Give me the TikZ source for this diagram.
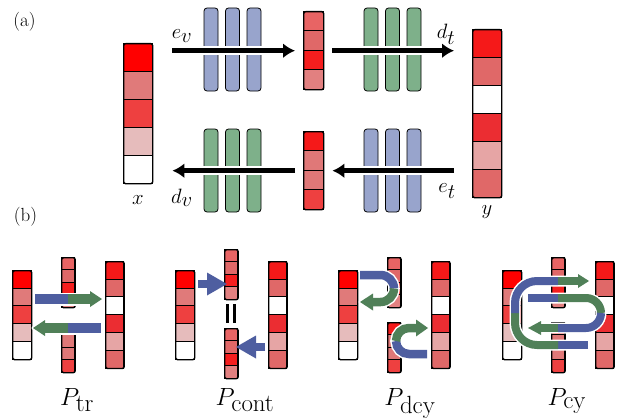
\documentclass[tikz,border=0pt]{standalone}
\usetikzlibrary{positioning,arrows.meta,calc}
\DeclareMathSizes{21}{21}{20}{15}
\DeclareMathSizes{27}{27}{25}{20}
\definecolor{layblue}{RGB}{152,164,204}
\definecolor{laygreen}{RGB}{126,176,138}
\definecolor{bandblue}{RGB}{78,94,160}
\definecolor{bandgreen}{RGB}{80,128,88}
\definecolor{xA}{RGB}{255,0,0}
\definecolor{xB}{RGB}{224,122,122}
\definecolor{xC}{RGB}{238,64,64}
\definecolor{xD}{RGB}{230,188,188}
\definecolor{yA}{RGB}{245,25,25}
\definecolor{yB}{RGB}{224,104,104}
\definecolor{yD}{RGB}{235,45,50}
\definecolor{yE}{RGB}{230,165,165}
\definecolor{zA}{RGB}{232,100,100}
\definecolor{zC}{RGB}{245,30,30}
\definecolor{zD}{RGB}{226,128,128}
\definecolor{wB}{RGB}{224,120,120}
\def\xcols{xA,xB,xC,xD,white}
\def\ycols{yA,yB,white,yD,yE,yB}
\def\ztcols{zA,yB,zC,zD}
\def\zbcols{yA,wB,wB,xC}
\def\bw{10pt}
\tikzstyle{layer}=[draw,line width=0.8pt,rounded corners=3pt,minimum width=14pt,minimum height=83pt,inner sep=0pt]
\tikzstyle{vecframe}=[draw,line width=1.4pt,rounded corners=2pt,inner sep=0pt]
\tikzstyle{bigarrow}=[line width=5pt,-{Latex[length=12pt,width=15pt]},preaction={draw=white,line width=9pt,-}]
\tikzstyle{lab}=[inner sep=0pt,anchor=base,font=\fontsize{21}{25}\selectfont]
\tikzstyle{plab}=[inner sep=0pt,anchor=base,font=\fontsize{27}{31}\selectfont]
\tikzset{band/.style={draw=#1,line width=\bw},
  halo/.style={draw=white,line width=\bw+3pt},
  headhalo/.style={fill=white,draw=white,line width=3pt,line join=round}}
% vector of coloured cells: name, left, top, width, cell height, cells, colours
\newcommand{\newVec}[7]{%
  \foreach \c [count=\i] in #7
    \filldraw[fill=\c,draw=black,line width=0.6pt] (#2,{#3+(\i-1)*#5}) rectangle ++(#4,#5);
  \node[vecframe,anchor=north west,minimum width=#4,minimum height=#6*#5] (#1) at (#2,#3) {};}
\newcommand{\newLayers}[4]{\foreach \k in {0,1,2} \node[layer,fill=#4] (#1\k) at ({#2+21.5*\k},#3) {};}
% arrow head: tip x, tip y, base offset, half height, style
\newcommand{\newHead}[5]{\path[#5] (#1,#2) -- ++(#3,#4) -- ++(0,{-2*#4}) -- cycle;}

\begin{document}
\begin{tikzpicture}[x=1pt,y=-1pt]
\useasboundingbox (0,0) rectangle (618,420);
% (a)
\node[inner sep=0pt,font=\fontsize{19}{22}\selectfont] (pa) at (24.5,21.5) {(a)};
\newVec{xa}{123}{43}{29}{28}{5}{\xcols}
\newVec{ya}{472}{29}{29}{28}{6}{\ycols}
\newVec{zta}{303}{11}{20}{19.5}{4}{\ztcols}
\newVec{zba}{303}{131}{20}{19.5}{4}{\zbcols}
\newLayers{ev}{211}{49.5}{layblue}
\newLayers{dt}{371}{49.5}{laygreen}
\newLayers{dv}{211}{170.5}{laygreen}
\newLayers{et}{371}{170.5}{layblue}
\draw[bigarrow] ($(xa.east |- zta.west)+(19,0)$) -- ($(zta.west)+(-8,0)$);
\draw[bigarrow] ($(zta.east)+(8,0)$) -- ($(ya.west |- zta.east)+(-18,0)$);
\draw[bigarrow] ($(ya.west |- zba.east)+(-18,0)$) -- ($(zba.east)+(8,0)$);
\draw[bigarrow] ($(zba.west)+(-8,0)$) -- ($(xa.east |- zba.west)+(19,0)$);
\node[lab] (lev) at (182,39) {$e_v$};
\node[lab] (ldt) at (446,39) {$d_t$};
\node[lab] (let) at (447,192.5) {$e_t$};
\node[lab] (ldv) at (182,203) {$d_v$};
\node[lab] (lx) at (138,204) {$x$};
\node[lab] (ly) at (487,214.5) {$y$};
% (b)
\node[inner sep=0pt,font=\fontsize{19}{22}\selectfont] (pb) at (25.5,217) {(b)};
\foreach \dx/\n in {0/tr,163/cont,326/dcy,490/cy}{
  \newVec{xb\n}{12+\dx}{270}{19}{17.8}{5}{\xcols}
  \newVec{yb\n}{105+\dx}{261}{18.5}{17.8}{6}{\ycols}
}
\foreach \dx/\n in {0/tr,326/dcy,490/cy}{
  \newVec{zt\n}{61+\dx}{257}{13.5}{12.5}{4}{\ztcols}
  \newVec{zb\n}{61+\dx}{322}{13.5}{12.5}{4}{\zbcols}
}
\newVec{ztcont}{224}{249}{13.5}{12.5}{4}{\ztcols}
\newVec{zbcont}{224}{328}{13.5}{12.5}{4}{\ztcols}
% P_tr
\draw[halo] (35,299) -- (91,299);
\newHead{102}{299}{-12}{8}{headhalo}
\draw[band=bandblue] (35,299) -- (68,299);
\draw[band=bandgreen] (68,299) -- (91,299);
\newHead{102}{299}{-12}{8}{fill=bandgreen}
\draw[halo] (101,328) -- (44,328);
\newHead{33}{328}{12}{8}{headhalo}
\draw[band=bandblue] (101,328) -- (68,328);
\draw[band=bandgreen] (68,328) -- (44,328);
\newHead{33}{328}{12}{8}{fill=bandgreen}
% P_cont
\def\bw{8pt}
\draw[band=bandblue] (198,284) -- (208,284);
\newHead{227}{284}{-20}{11.5}{fill=bandblue}
\draw[band=bandblue] (265,347) -- (255,347);
\newHead{236}{347}{20}{11.5}{fill=bandblue}
\draw[line width=3pt] (227.5,304) -- (227.5,323);
\draw[line width=3pt] (234.5,304) -- (234.5,323);
% P_dcy
\def\bw{8.5pt}
\draw[halo,rounded corners=13.5pt] (360,275) -- (394,275) -- (394,302) -- (372,302);
\newHead{360}{302}{13}{8.5}{headhalo}
\draw[band=bandblue,rounded corners=13.5pt] (360,275) -- (394,275) -- (394,288.5);
\draw[band=bandgreen,rounded corners=13.5pt] (394,288.5) -- (394,302) -- (372,302);
\newHead{360}{302}{13}{8.5}{fill=bandgreen}
\draw[halo,rounded corners=13pt] (427,354) -- (396,354) -- (396,328) -- (416,328);
\newHead{428}{328}{-12}{8.5}{headhalo}
\draw[band=bandblue,rounded corners=13pt] (427,354) -- (396,354) -- (396,341);
\draw[band=bandgreen,rounded corners=13pt] (396,341) -- (396,328) -- (416,328);
\newHead{428}{328}{-12}{8.5}{fill=bandgreen}
% P_cy
\def\bw{8pt}
\draw[halo,rounded corners=22pt] (588,345) -- (515,345) -- (515,281) -- (579,281);
\newHead{589}{281}{-11}{7}{headhalo}
\draw[band=bandblue] (588,345) -- (558,345);
\draw[band=bandgreen,rounded corners=22pt] (558,345) -- (515,345) -- (515,313);
\draw[band=bandblue,rounded corners=22pt] (515,313) -- (515,281) -- (558,281);
\draw[band=bandgreen] (558,281) -- (579,281);
\newHead{589}{281}{-11}{7}{fill=bandgreen}
\draw[halo,rounded corners=15pt] (528,298) -- (601,298) -- (601,328) -- (540,328);
\newHead{528}{328}{13}{7}{headhalo}
\draw[band=bandblue] (528,298) -- (558,298);
\draw[band=bandgreen,rounded corners=15pt] (558,298) -- (601,298) -- (601,313);
\draw[band=bandblue,rounded corners=15pt] (601,313) -- (601,328) -- (558,328);
\draw[band=bandgreen] (558,328) -- (540,328);
\newHead{528}{328}{13}{7}{fill=bandgreen}
\node[plab] (ptr) at (77,405) {$P_{\mathrm{tr}}$};
\node[plab] (pcont) at (245,405) {$P_{\mathrm{cont}}$};
\node[plab] (pdcy) at (410,405) {$P_{\mathrm{dcy}}$};
\node[plab] (pcy) at (567,405) {$P_{\mathrm{cy}}$};
\end{tikzpicture}
\end{document}
